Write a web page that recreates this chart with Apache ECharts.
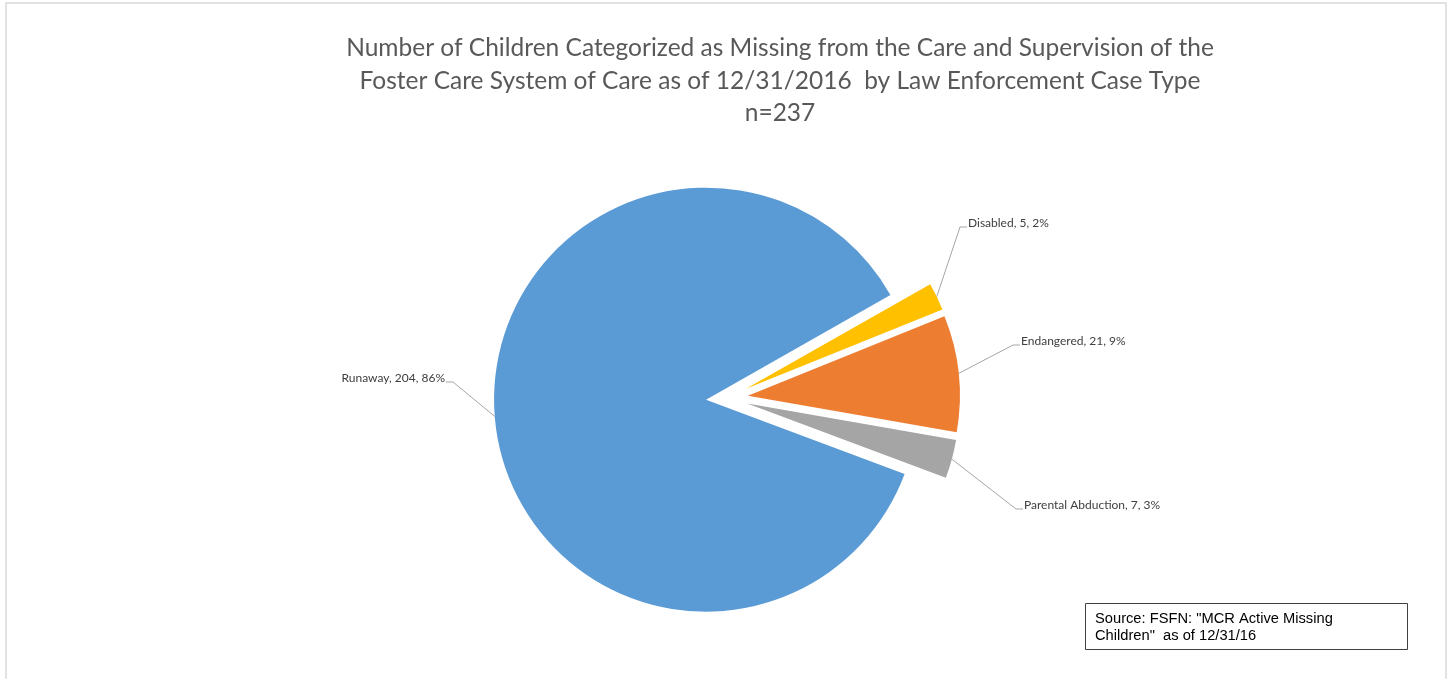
<!DOCTYPE html>
<html>
<head>
<meta charset="utf-8">
<script src="https://cdn.jsdelivr.net/npm/echarts@6/dist/echarts.min.js"></script>
<style>html,body{margin:0;padding:0;background:#fff}#c{width:1452px;height:679px}</style>
</head>
<body>
<div id="c"></div>
<script>
// ---- data ----
const categories = ['Disabled', 'Endangered', 'Parental Abduction', 'Runaway'];
const counts = [5, 21, 7, 204];
const colors = ['#FFC000', '#ED7D31', '#A5A5A5', '#5B9BD5'];
const titleLines = [
  'Number of Children Categorized as Missing from the Care and Supervision of the',
  'Foster Care System of Care as of 12/31/2016  by Law Enforcement Case Type',
  'n=237'
];
const sourceLines = ['Source: FSFN: "MCR Active Missing', 'Children"  as of 12/31/16'];

// ---- layout (label anchor = end of leader line, side of text) ----
const labelAnchor = [
  {x: 967, y: 227, side: 'left'},
  {x: 1020, y: 345, side: 'left'},
  {x: 1023, y: 509, side: 'left'},
  {x: 446, y: 382, side: 'right'}
];
const explode = 21;

const chart = echarts.init(document.getElementById('c'), null, {renderer: 'canvas'});
const labelFont = 'Lato, "Open Sans", sans-serif';

const baseGraphics = [
  {
    type: 'rect', silent: true, z: -1,
    shape: {x: 6, y: 3, width: 1440, height: 700},
    style: {fill: 'none', stroke: '#d9d9d9', lineWidth: 1.5}
  },
  {
    type: 'rect', silent: true,
    shape: {x: 1085.5, y: 603.5, width: 322, height: 46},
    style: {fill: '#fff', stroke: '#404040', lineWidth: 1}
  },
  {
    type: 'text', silent: true,
    x: 1095, y: 610,
    style: {
      text: sourceLines.join('\n'),
      font: '14.7px "Liberation Sans", Arial, sans-serif',
      lineHeight: 17,
      fill: '#000'
    }
  }
];

chart.setOption({
  backgroundColor: '#fff',
  animation: false,
  title: {
    text: titleLines.join('\n'),
    left: 775,
    top: 27,
    textAlign: 'center',
    textStyle: {
      fontFamily: labelFont,
      fontSize: 24.5,
      fontWeight: 'normal',
      color: '#595959',
      lineHeight: 32.5
    }
  },
  series: [{
    type: 'pie',
    center: [727, 398],
    radius: 212,
    startAngle: 29.6,
    clockwise: true,
    selectedMode: 'multiple',
    selectedOffset: explode,
    percentPrecision: 0,
    emphasis: {disabled: true},
    itemStyle: {borderWidth: 0},
    label: {show: false},
    labelLine: {show: false},
    data: categories.map((name, i) => ({
      name, value: counts[i], selected: true,
      itemStyle: {color: colors[i]}
    }))
  }],
  graphic: baseGraphics
});

// Data labels with leader lines, placed from the pie's own computed geometry
const seriesModel = chart.getModel().getSeriesByIndex(0);
const pieData = seriesModel.getData();
const labelGraphics = [];
categories.forEach((name, i) => {
  const lay = pieData.getItemLayout(i);
  const mid = (lay.startAngle + lay.endAngle) / 2;
  const rr = lay.r + explode;
  const p0 = [lay.cx + rr * Math.cos(mid), lay.cy + rr * Math.sin(mid)];
  const a = labelAnchor[i];
  const dir = a.side === 'left' ? 1 : -1;
  const params = seriesModel.getDataParams(i);
  labelGraphics.push({
    type: 'polyline', silent: true,
    shape: {points: [p0, [a.x - dir * 7, a.y], [a.x, a.y]]},
    style: {stroke: '#A6A6A6', lineWidth: 1, fill: null}
  });
  labelGraphics.push({
    type: 'text', silent: true,
    x: a.x + dir * 1, y: a.y - 4,
    style: {
      text: name + ', ' + params.value + ', ' + params.percent + '%',
      font: '12px ' + labelFont,
      fill: '#404040',
      align: a.side,
      verticalAlign: 'middle'
    }
  });
});
chart.setOption({graphic: baseGraphics.concat(labelGraphics)});
</script>
</body>
</html>
